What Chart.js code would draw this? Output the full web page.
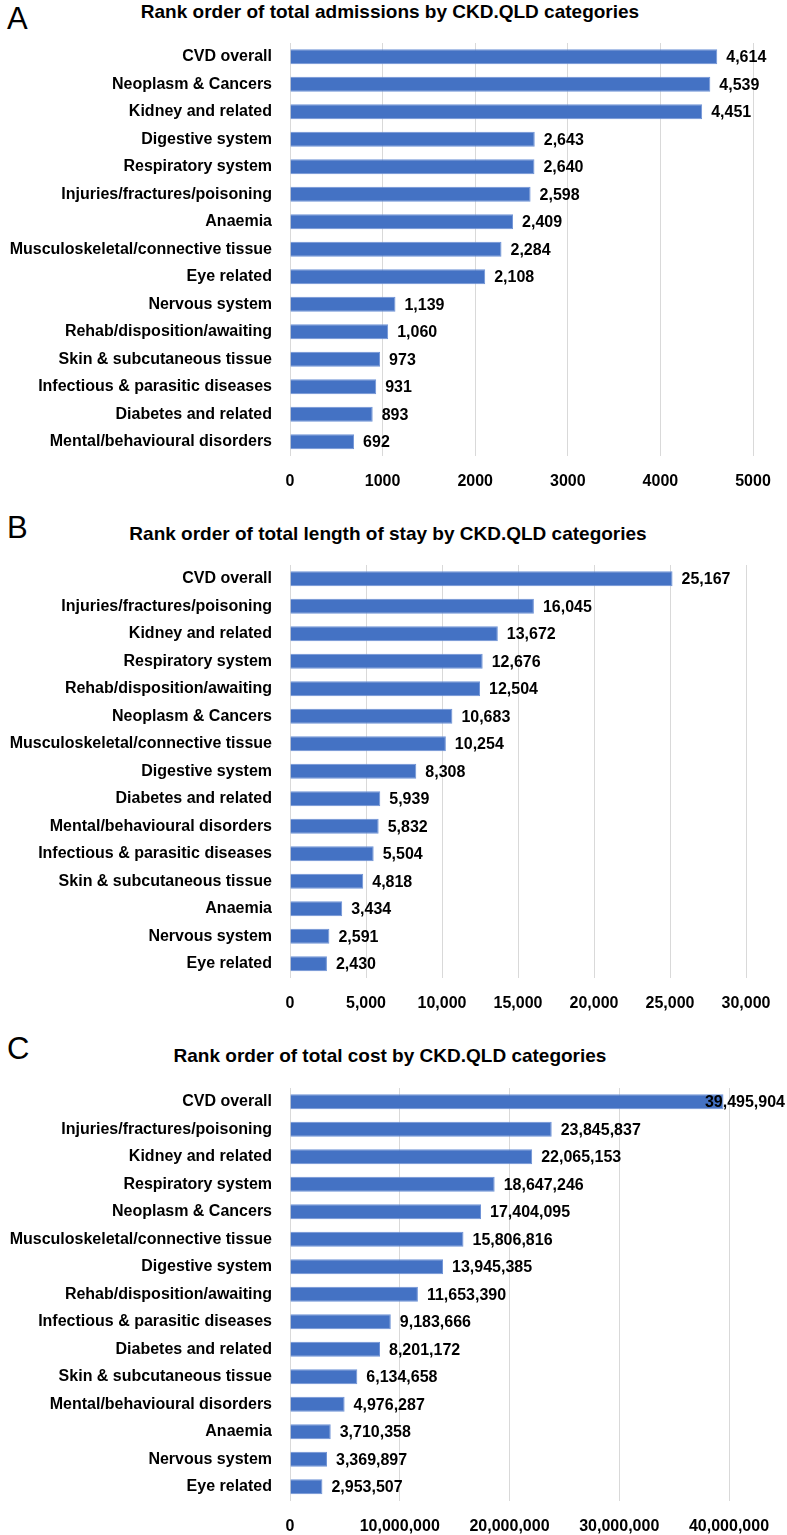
<!DOCTYPE html>
<html>
<head>
<meta charset="utf-8">
<script src="https://cdn.jsdelivr.net/npm/chart.js@4.4.0/dist/chart.umd.min.js"></script>
<style>
  html, body { margin: 0; padding: 0; background: #fff; }
  body { width: 787px; height: 1535px; position: relative; overflow: hidden; }
  .panel-letter { position: absolute; left: 7px; font: 31px/31px 'Liberation Sans', Arial, sans-serif; color: #000; }
  .title { position: absolute; font: bold 19px/19px 'Liberation Sans Narrow', 'Liberation Sans', sans-serif; color: #000; white-space: nowrap; transform: translateX(-50%); }
  .box { position: absolute; left: 0; width: 787px; }
</style>
</head>
<body>
<div class="panel-letter" style="top:3px">A</div>
<div class="title" style="left:390px; top:2px">Rank order of total admissions by CKD.QLD categories</div>
<div class="box" style="top:43px; height:457px"><canvas id="chartA"></canvas></div>

<div class="panel-letter" style="top:512px">B</div>
<div class="title" style="left:388px; top:524px">Rank order of total length of stay by CKD.QLD categories</div>
<div class="box" style="top:565px; height:457px"><canvas id="chartB"></canvas></div>

<div class="panel-letter" style="top:1033px">C</div>
<div class="title" style="left:390px; top:1046px">Rank order of total cost by CKD.QLD categories</div>
<div class="box" style="top:1088px; height:447px"><canvas id="chartC"></canvas></div>

<script>
// ---- DATA ----
const admissionCats = ['CVD overall', 'Neoplasm & Cancers', 'Kidney and related', 'Digestive system',
  'Respiratory system', 'Injuries/fractures/poisoning', 'Anaemia', 'Musculoskeletal/connective tissue',
  'Eye related', 'Nervous system', 'Rehab/disposition/awaiting', 'Skin & subcutaneous tissue',
  'Infectious & parasitic diseases', 'Diabetes and related', 'Mental/behavioural disorders'];
const admissionVals = [4614, 4539, 4451, 2643, 2640, 2598, 2409, 2284, 2108, 1139, 1060, 973, 931, 893, 692];
const admissionTicks = [0, 1000, 2000, 3000, 4000, 5000];

const stayCats = ['CVD overall', 'Injuries/fractures/poisoning', 'Kidney and related', 'Respiratory system',
  'Rehab/disposition/awaiting', 'Neoplasm & Cancers', 'Musculoskeletal/connective tissue', 'Digestive system',
  'Diabetes and related', 'Mental/behavioural disorders', 'Infectious & parasitic diseases',
  'Skin & subcutaneous tissue', 'Anaemia', 'Nervous system', 'Eye related'];
const stayVals = [25167, 16045, 13672, 12676, 12504, 10683, 10254, 8308, 5939, 5832, 5504, 4818, 3434, 2591, 2430];
const stayTicks = [0, 5000, 10000, 15000, 20000, 25000, 30000];

const costCats = ['CVD overall', 'Injuries/fractures/poisoning', 'Kidney and related', 'Respiratory system',
  'Neoplasm & Cancers', 'Musculoskeletal/connective tissue', 'Digestive system', 'Rehab/disposition/awaiting',
  'Infectious & parasitic diseases', 'Diabetes and related', 'Skin & subcutaneous tissue',
  'Mental/behavioural disorders', 'Anaemia', 'Nervous system', 'Eye related'];
const costVals = [39495904, 23845837, 22065153, 18647246, 17404095, 15806816, 13945385, 11653390,
  9183666, 8201172, 6134658, 4976287, 3710358, 3369897, 2953507];
const costTicks = [0, 10000000, 20000000, 30000000, 40000000];

const FONT = "'Liberation Sans Narrow', 'Liberation Sans', sans-serif";
const BAR = '#4472C4';
const fmt = v => v.toLocaleString('en-US');

// ---- VALUE LABELS (outside end, pushed back inside the canvas when too long) ----
const valueLabels = {
  id: 'valueLabels',
  afterDatasetsDraw(chart) {
    const ctx = chart.ctx;
    const meta = chart.getDatasetMeta(0);
    ctx.save();
    ctx.font = 'bold 16px ' + FONT;
    ctx.fillStyle = '#000';
    ctx.textBaseline = 'middle';
    ctx.textAlign = 'left';
    meta.data.forEach((bar, i) => {
      const txt = fmt(chart.data.datasets[0].data[i]);
      const w = ctx.measureText(txt).width;
      let x = bar.x + 9;
      if (x + w > chart.width - 2) x = chart.width - 2 - w;
      ctx.fillText(txt, x, bar.y + 1);
    });
    ctx.restore();
  }
};

function makeChart(id, cats, vals, ticks, rightPad, tickFmt, axisH) {
  const max = ticks[ticks.length - 1];
  const chart = new Chart(document.getElementById(id), {
    type: 'bar',
    data: {
      labels: cats,
      datasets: [{ data: vals, backgroundColor: BAR, borderColor: '#6f93d6', borderWidth: 1,
        barPercentage: 0.54, categoryPercentage: 1 }]
    },
    options: {
      indexAxis: 'y',
      responsive: true,
      maintainAspectRatio: false,
      animation: false,
      layout: { autoPadding: false, padding: { top: 0, right: rightPad, left: 0, bottom: 0 } },
      plugins: { legend: { display: false }, title: { display: false }, subtitle: { display: false },
        tooltip: { enabled: false } },
      scales: {
        x: {
          min: 0, max: max,
          afterBuildTicks: s => { s.ticks = ticks.map(v => ({ value: v })); },
          ticks: { padding: 16, color: '#000', font: { family: FONT, size: 16, weight: 'bold' },
            callback: tickFmt },
          grid: { color: '#d9d9d9', drawTicks: false, lineWidth: 1 },
          border: { display: false },
          afterFit: s => { s.height = axisH; s.paddingLeft = s.paddingRight = 0; }
        },
        y: {
          ticks: { padding: 18, color: '#000', font: { family: FONT, size: 16, weight: 'bold' } },
          grid: { display: false, drawTicks: false },
          border: { display: false },
          afterFit: s => { s.width = 290; s.paddingTop = s.paddingBottom = 0; }
        }
      }
    },
    plugins: [valueLabels]
  });
  // chart area should start right at the top of its box
  const off = chart.chartArea.top;
  if (Math.abs(off) > 0.5) {
    chart.options.layout.padding.top = -off;
    chart.update();
  }
  return chart;
}

document.addEventListener('DOMContentLoaded', () => {
  makeChart('chartA', admissionCats, admissionVals, admissionTicks, 34, v => String(v), 44.5);
  makeChart('chartB', stayCats, stayVals, stayTicks, 41, v => fmt(v), 44.5);
  makeChart('chartC', costCats, costVals, costTicks, 58, v => fmt(v), 34.5);
});
</script>
</body>
</html>
